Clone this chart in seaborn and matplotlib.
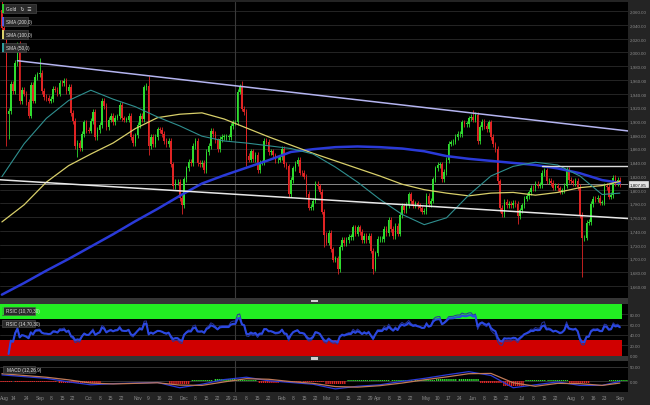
import numpy as np
import pandas as pd
import matplotlib
matplotlib.use("Agg")
import matplotlib.pyplot as plt
import seaborn as sns
from matplotlib.patches import Rectangle

# -------------------------------
# Daily closes (gold, business days Aug 7 2020 .. Sep 1 2021)
# -------------------------------
closes_aug20 = [2035, 2028, 1911, 1915, 1954, 1944, 1985, 2013, 1929, 1946, 1940, 1928, 1908, 1953, 1930, 1964, 1968]
closes_sep20 = [1970, 1944, 1935, 1934, 1930, 1932, 1947, 1946, 1940, 1956, 1955, 1959, 1944, 1950, 1912, 1900,
                1863, 1868, 1861, 1881, 1898, 1887]
closes_oct20 = [1886, 1900, 1913, 1877, 1887, 1894, 1930, 1922, 1891, 1902, 1908, 1899, 1905, 1907, 1924, 1904,
                1902, 1902, 1908, 1877, 1868, 1879]
closes_nov20 = [1894, 1908, 1903, 1949, 1951, 1863, 1877, 1866, 1877, 1888, 1887, 1881, 1871, 1866, 1871, 1837,
                1805, 1811, 1811, 1788, 1777]
closes_dec20 = [1815, 1831, 1841, 1839, 1864, 1871, 1839, 1837, 1839, 1828, 1855, 1864, 1886, 1881, 1872, 1859,
                1874, 1877, 1877, 1877, 1877, 1893, 1898]
closes_jan21 = [1898, 1943, 1950, 1918, 1913, 1849, 1844, 1856, 1845, 1851, 1828, 1840, 1840, 1871, 1870, 1855,
                1856, 1850, 1843, 1844, 1847]
closes_feb21 = [1860, 1837, 1834, 1794, 1814, 1831, 1838, 1843, 1825, 1824, 1819, 1794, 1774, 1775, 1784, 1808,
                1805, 1797, 1768, 1734]
closes_mar21 = [1723, 1737, 1713, 1698, 1700, 1684, 1716, 1727, 1722, 1727, 1731, 1731, 1745, 1736, 1745, 1738,
                1726, 1733, 1726, 1733, 1711, 1685, 1707]
closes_apr21 = [1728, 1728, 1728, 1743, 1737, 1756, 1743, 1732, 1747, 1736, 1763, 1776, 1770, 1778, 1793, 1783,
                1777, 1780, 1776, 1773, 1768, 1769]
closes_may21 = [1791, 1779, 1784, 1815, 1831, 1836, 1837, 1815, 1826, 1843, 1867, 1869, 1870, 1877, 1881, 1881,
                1898, 1896, 1896, 1904, 1906]
closes_jun21 = [1902, 1909, 1871, 1891, 1899, 1893, 1888, 1898, 1877, 1866, 1859, 1812, 1774, 1764, 1782, 1778,
                1779, 1777, 1781, 1779, 1761, 1770]
closes_jul21 = [1777, 1787, 1791, 1796, 1803, 1802, 1808, 1806, 1807, 1824, 1828, 1812, 1813, 1810, 1803, 1806,
                1802, 1797, 1799, 1806, 1829, 1814]
closes_aug21 = [1812, 1810, 1813, 1804, 1763, 1729, 1730, 1752, 1753, 1779, 1787, 1786, 1788, 1781, 1781, 1806,
                1804, 1790, 1792, 1817, 1810, 1814]
closes_sep21 = [1807.85]
first_open = 2062

# notable wick extremes
wick_highs = {"2020-08-07": 2075, "2020-08-18": 2015, "2020-09-01": 1992, "2020-11-09": 1965,
              "2021-01-06": 1959, "2021-06-01": 1916}
wick_lows = {"2020-08-11": 1863, "2020-08-12": 1874, "2020-09-24": 1848, "2020-11-09": 1850,
             "2020-11-30": 1764, "2021-01-08": 1835, "2021-02-26": 1717, "2021-03-08": 1677,
             "2021-03-30": 1677, "2021-06-17": 1767, "2021-06-29": 1750, "2021-08-09": 1672}
wick_pad = 4

# moving averages (read every 10 sessions)
sma_dates = ["2020-08-07", "2020-08-21", "2020-09-04", "2020-09-18", "2020-10-02", "2020-10-16", "2020-10-30",
             "2020-11-13", "2020-11-27", "2020-12-11", "2020-12-25", "2021-01-08", "2021-01-22", "2021-02-05",
             "2021-02-19", "2021-03-05", "2021-03-19", "2021-04-02", "2021-04-16", "2021-04-30", "2021-05-14",
             "2021-05-28", "2021-06-11", "2021-06-25", "2021-07-09", "2021-07-23", "2021-08-06", "2021-08-20",
             "2021-09-01"]
sma200 = [1647, 1664, 1682, 1699, 1717, 1735, 1754, 1772, 1791, 1809, 1821, 1832, 1843, 1855, 1859, 1862, 1863,
          1862, 1860, 1856, 1849, 1845, 1842, 1839, 1836, 1831, 1824, 1814, 1810]
sma100 = [1753, 1778, 1811, 1835, 1852, 1868, 1889, 1905, 1910, 1912, 1903, 1890, 1877, 1865, 1853, 1842, 1831,
          1820, 1808, 1800, 1795, 1791, 1795, 1796, 1792, 1796, 1803, 1806, 1812]
sma50 = [1819, 1867, 1904, 1930, 1945, 1932, 1921, 1906, 1893, 1878, 1871, 1868, 1864, 1860, 1852, 1833, 1811,
         1786, 1764, 1749, 1759, 1792, 1820, 1834, 1840, 1836, 1820, 1793, 1795]
macd_line = [22, 16, 10, -2, -12, -8, -6, -4, -22, -10, 6, 14, 2, -4, -10, -26, -17, -12, 0, 10, 22, 33, 20,
             -22, -12, -2, -14, -14, 0]
macd_signal = [26, 20, 14, 5, -6, -9, -7, -5, -13, -14, -2, 9, 7, -1, -7, -18, -20, -15, -6, 5, 15, 26, 27,
               -5, -17, -7, -8, -14, -6]

# drawn lines
upper_trend = (["2020-08-18", "2021-09-01"], [1988, 1887])
lower_trend = (["2020-08-07", "2021-09-01"], [1814.3, 1758.7])
resistance = ("2021-07-14", 1834)
last_price = 1807.85

xtick_dates = ["2020-08-10", "2020-08-14", "2020-08-24", "2020-09-01", "2020-09-08", "2020-09-15", "2020-09-22",
               "2020-10-01", "2020-10-08", "2020-10-15", "2020-10-22", "2020-11-02", "2020-11-09", "2020-11-16",
               "2020-11-23", "2020-12-01", "2020-12-08", "2020-12-15", "2020-12-22", "2020-12-29", "2021-01-01",
               "2021-01-08", "2021-01-15", "2021-01-22", "2021-02-01", "2021-02-08", "2021-02-15", "2021-02-22",
               "2021-03-01", "2021-03-08", "2021-03-15", "2021-03-22", "2021-03-29", "2021-04-01", "2021-04-08",
               "2021-04-15", "2021-04-22", "2021-05-03", "2021-05-10", "2021-05-17", "2021-05-24", "2021-06-01",
               "2021-06-08", "2021-06-15", "2021-06-22", "2021-07-01", "2021-07-08", "2021-07-15", "2021-07-22",
               "2021-08-02", "2021-08-09", "2021-08-16", "2021-08-23", "2021-09-01"]
xtick_labels = ["Aug", "14", "24", "Sep", "8", "15", "22", "Oct", "8", "15", "22", "Nov", "9", "16", "23",
                "Dec", "8", "15", "22", "29", "21", "8", "15", "22", "Feb", "8", "15", "22", "Mar", "8", "15",
                "22", "29", "Apr", "8", "15", "22", "May", "10", "17", "24", "Jun", "8", "15", "22", "Jul", "8",
                "15", "22", "Aug", "9", "16", "23", "Sep"]

# -------------------------------
# Build frame
# -------------------------------
closes = (closes_aug20 + closes_sep20 + closes_oct20 + closes_nov20 + closes_dec20 + closes_jan21 +
          closes_feb21 + closes_mar21 + closes_apr21 + closes_may21 + closes_jun21 + closes_jul21 +
          closes_aug21 + closes_sep21)
dates = pd.bdate_range("2020-08-07", "2021-09-01")
df = pd.DataFrame({"close": closes}, index=dates)
df["open"] = df["close"].shift(1).fillna(first_open)
df["x"] = np.arange(len(df))
top = df[["open", "close"]].max(axis=1)
bot = df[["open", "close"]].min(axis=1)
df["high"] = top + wick_pad
df["low"] = bot - wick_pad
for d, v in wick_highs.items():
    df.loc[d, "high"] = max(v, top[d])
for d, v in wick_lows.items():
    df.loc[d, "low"] = min(v, bot[d])


def xpos(d):
    return dates.get_loc(pd.Timestamp(d))


sma_x = [xpos(d) for d in sma_dates]

# RSI from the closes (warm-up sessions left blank)
delta = df["close"].diff().reset_index(drop=True)
rsi = {}
for n in (10, 14):
    g = delta.clip(lower=0).ewm(alpha=1 / n, adjust=True, min_periods=3).mean()
    l = (-delta.clip(upper=0)).ewm(alpha=1 / n, adjust=True, min_periods=3).mean()
    rsi[n] = (100 - 100 / (1 + g / l)).values

# -------------------------------
# Figure
# -------------------------------
sns.set_theme(style="dark", rc={"axes.facecolor": "black", "figure.facecolor": "#242424",
                                "hatch.linewidth": 1.0})
plt.rcParams["font.family"] = ["Liberation Sans", "DejaVu Sans"]

W, H = 650, 406
fig = plt.figure(figsize=(6.5, 4.06), dpi=100)


def px_axes(x0, y0, x1, y1):
    return fig.add_axes([x0 / W, 1 - y1 / H, (x1 - x0) / W, (y1 - y0) / H])


def fig_rect(x0, y0, x1, y1, **kw):
    fig.add_artist(Rectangle((x0 / W, 1 - y1 / H), (x1 - x0) / W, (y1 - y0) / H,
                             transform=fig.transFigure, **kw))


XMIN, XMAX = -0.855, 281.65
GRID = "#2a2a2a"
TXT = "#8c8c8c"
FS = 3.2

ax = px_axes(0, 3, 628, 299)
ax_rsi = px_axes(0, 304.7, 628, 356.7)
ax_macd = px_axes(0, 362, 628, 393)

for a in (ax, ax_rsi, ax_macd):
    a.set_facecolor("black")
    a.set_xlim(XMIN, XMAX)
    for s in a.spines.values():
        s.set_visible(False)
    a.grid(False)
    a.yaxis.tick_right()
    a.tick_params(axis="y", length=0, pad=1.4, labelsize=FS, labelcolor=TXT)
    a.tick_params(axis="x", length=0)
    a.axvline(xpos("2021-01-01"), color="#3a3a3a", lw=0.8, zorder=0.5)

# -------------------------------
# Main price panel
# -------------------------------
ax.set_ylim(1642.1, 2073.6)
levels = np.arange(1660, 2061, 20)
for v in levels:
    ax.axhline(v, color=GRID, lw=0.6, zorder=0)
ax.set_yticks(levels)
ax.set_yticklabels([f"{v:,.2f}" for v in levels])
ax.set_xticks([])

ax.axhline(last_price, color="#8a8a8a", lw=0.7, zorder=1)

up = df["close"] >= df["open"]
colors = np.where(up, "#2fdc2f", "#e02424")
ax.vlines(df["x"], df["low"], df["high"], colors=colors, lw=0.6, zorder=2)
ax.bar(df["x"], np.maximum(top - bot, 0.8), bottom=bot, width=0.7, color=colors, lw=0, zorder=3)

sns.lineplot(x=sma_x, y=sma200, ax=ax, color="#2a3ad8", lw=1.8, zorder=4)
sns.lineplot(x=sma_x, y=sma100, ax=ax, color="#d8cf6a", lw=0.9, zorder=4)
sns.lineplot(x=sma_x, y=sma50, ax=ax, color="#2f8f8f", lw=0.8, zorder=4)

ux = [xpos(d) for d in upper_trend[0]]
slope_u = (upper_trend[1][1] - upper_trend[1][0]) / (ux[1] - ux[0])
ax.plot([ux[0], XMAX], [upper_trend[1][0], upper_trend[1][0] + slope_u * (XMAX - ux[0])],
        color="#b4b4f0", lw=1.1, zorder=5)
lx = [xpos(d) for d in lower_trend[0]]
ax.axline((lx[0], lower_trend[1][0]), (lx[1], lower_trend[1][1]), color="#e8e8e8", lw=1.1, zorder=5)
ax.plot([xpos(resistance[0]), XMAX], [resistance[1]] * 2, color="#dcdcdc", lw=1.0, zorder=5)
ax.set_ylabel("")

# -------------------------------
# RSI panel
# -------------------------------
ax_rsi.set_ylim(0, 100)
for v in (20, 40, 60, 80):
    ax_rsi.axhline(v, color=GRID, lw=0.6, zorder=0)
ax_rsi.axhspan(70, 100, xmax=622 / 628, color="#22ee22", lw=0, zorder=1)
ax_rsi.axhspan(0, 30, xmax=622 / 628, color="#d00000", lw=0, zorder=1)
sns.lineplot(x=df["x"].values, y=rsi[10], ax=ax_rsi, color="#26349a", lw=0.7, zorder=3)
sns.lineplot(x=df["x"].values, y=rsi[14], ax=ax_rsi, color="#2b48e0", lw=1.5, zorder=4)
ax_rsi.set_yticks([80, 60, 40, 20, 0])
ax_rsi.set_yticklabels(["80.00", "60.00", "40.00", "20.00", "0.00"])
ax_rsi.set_xticks([])

# -------------------------------
# MACD panel
# -------------------------------
ax_macd.set_ylim(-36.6, 69.5)
for v in (0, 50):
    ax_macd.axhline(v, color="#3a3a3a", lw=0.6, zorder=0)
hist = np.array(macd_line) - np.array(macd_signal)
hcol = np.where(hist >= 0, "#2fdc2f", "#e02424")
ax_macd.bar(sma_x, hist, width=9.5, facecolor="none", edgecolor=hcol, hatch="||||||||", lw=0, zorder=2)
sns.lineplot(x=sma_x, y=macd_line, ax=ax_macd, color="#2a3ad8", lw=0.9, zorder=3)
sns.lineplot(x=sma_x, y=macd_signal, ax=ax_macd, color="#c07a58", lw=0.9, zorder=3)
ax_macd.set_yticks([50, 0])
ax_macd.set_yticklabels(["50.00", "0.00"])
ax_macd.set_xticks([xpos(d) for d in xtick_dates])
ax_macd.set_xticklabels(xtick_labels)
ax_macd.tick_params(axis="x", pad=2.2, labelsize=FS + 0.3, labelcolor=TXT)

# -------------------------------
# Dividers, labels, price tag
# -------------------------------
fig_rect(0, 299, 628, 304.7, color="#353535", lw=0)
fig_rect(0, 356.7, 628, 362, color="#353535", lw=0)
fig_rect(311, 300.8, 318, 303, color="#d0d0d0", lw=0)
fig_rect(311, 358.4, 318, 360.6, color="#d0d0d0", lw=0)


def label_box(x0, y0, x1, y1, text, marker):
    fig_rect(x0, y0, x1, y1, facecolor="#2a2a2a", edgecolor="#555555", lw=0.4)
    if marker:
        fig_rect(x0, y0, x0 + 1.8, y1, color=marker, lw=0)
    fig.text((x0 + 4) / W, 1 - (y0 + y1) / 2 / H, text, fontsize=3.4, color="#e0e0e0",
             va="center", ha="left")


label_box(2, 5, 36, 13.5, "Gold   \u21bb  \u2630", "#2ecc2e")
label_box(2, 18, 28, 27, "SMA (200,0)", "#5a5ae0")
label_box(2, 31, 28, 40, "SMA (100,0)", "#d8cf6a")
label_box(2, 44, 26, 53, "SMA (50,0)", "#2f9f9f")
label_box(2, 308, 35, 316, "RSIC (10,70,30)", "#2ecc2e")
label_box(2, 321, 35, 328, "RSIC (14,70,30)", None)
label_box(3, 367, 35, 373.5, "MACD (12,26,9)", None)

ty = 3 + (2073.6 - last_price) / (2073.6 - 1642.1) * 296
fig.text(638.5 / W, 1 - ty / H, f"{last_price:,.2f}", fontsize=FS, color="#111111", ha="center", va="center",
         bbox=dict(boxstyle="square,pad=0.2", facecolor="#e4e4e4", edgecolor="#ffffff", lw=0.4))

fig.savefig("out.png", dpi=100, facecolor=fig.get_facecolor())
